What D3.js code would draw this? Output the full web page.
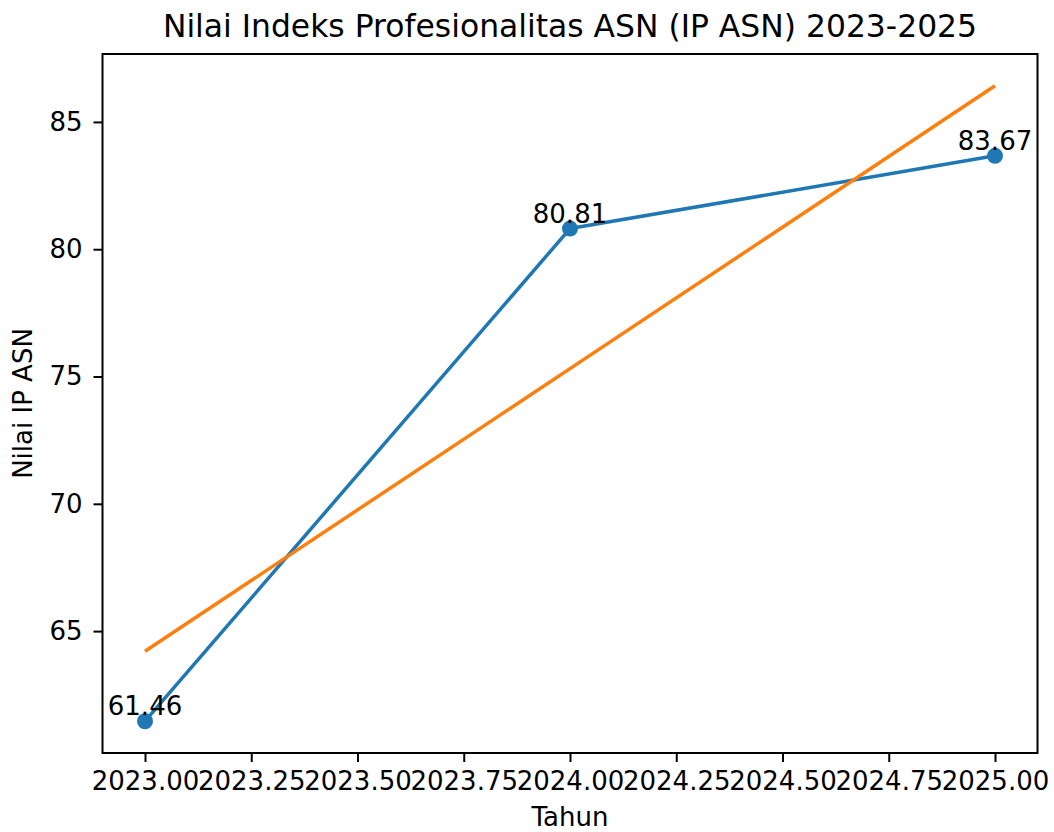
<!DOCTYPE html>
<html>
<head>
<meta charset="utf-8">
<script src="https://cdn.jsdelivr.net/npm/d3@7"></script>
<style>
    html, body { margin: 0; padding: 0; background: #ffffff; }
    svg { display: block; font-family: "DejaVu Sans", sans-serif; }
    .tick text { font-family: "DejaVu Sans", sans-serif; font-size: 26px; fill: #000000; }
    .tick line { stroke: #000000; stroke-width: 2; }
</style>
</head>
<body>
<div id="chart"></div>
<script>
const years = [2023, 2024, 2025];
const values = [61.46, 80.81, 83.67];
const trendValues = [64.21, 75.31, 86.42];
const xTicks = [2023, 2023.25, 2023.5, 2023.75, 2024, 2024.25, 2024.5, 2024.75, 2025];
const yTicks = [65, 70, 75, 80, 85];

const TITLE = "Nilai Indeks Profesionalitas ASN (IP ASN) 2023-2025";
const X_LABEL = "Tahun";
const Y_LABEL = "Nilai IP ASN";
const BLUE = "#1f77b4";
const ORANGE = "#ff7f0e";

function drawChart() {
    const width = 1054;
    const height = 832;
    const margin = { top: 54, right: 16.5, bottom: 79, left: 102.5 };

    const svg = d3.select("#chart")
        .append("svg")
        .attr("width", width)
        .attr("height", height);

    const innerWidth = width - margin.left - margin.right;
    const innerHeight = height - margin.top - margin.bottom;

    // matplotlib style 5% margins around the data
    const xMin = d3.min(years), xMax = d3.max(years);
    const xPad = (xMax - xMin) * 0.05;
    const allY = values.concat(trendValues);
    const yMin = d3.min(allY), yMax = d3.max(allY);
    const yPad = (yMax - yMin) * 0.05;

    const x = d3.scaleLinear()
        .domain([xMin - xPad, xMax + xPad])
        .range([0, innerWidth]);

    const y = d3.scaleLinear()
        .domain([yMin - yPad, yMax + yPad])
        .range([innerHeight, 0]);

    const chart = svg.append("g")
        .attr("transform", `translate(${margin.left},${margin.top})`);

    const line = d3.line()
        .x(d => x(d[0]))
        .y(d => y(d[1]));

    chart.append("path")
        .datum(d3.zip(years, values))
        .attr("fill", "none")
        .attr("stroke", BLUE)
        .attr("stroke-width", 3.5)
        .attr("stroke-linejoin", "round")
        .attr("d", line);

    chart.selectAll(".dot")
        .data(d3.zip(years, values))
        .enter()
        .append("circle")
        .attr("class", "dot")
        .attr("cx", d => x(d[0]))
        .attr("cy", d => y(d[1]))
        .attr("r", 8)
        .attr("fill", BLUE);

    chart.append("path")
        .datum(d3.zip(years, trendValues))
        .attr("fill", "none")
        .attr("stroke", ORANGE)
        .attr("stroke-width", 3.5)
        .attr("d", line);

    chart.selectAll(".value-label")
        .data(d3.zip(years, values))
        .enter()
        .append("text")
        .attr("class", "value-label")
        .attr("x", d => x(d[0]))
        .attr("y", d => y(d[1]) - 6)
        .attr("text-anchor", "middle")
        .attr("font-size", 26)
        .attr("fill", "#000000")
        .text(d => d[1].toFixed(2));

    const xAxis = chart.append("g")
        .attr("transform", `translate(0,${innerHeight})`)
        .call(d3.axisBottom(x)
            .tickValues(xTicks)
            .tickFormat(d3.format(".2f"))
            .tickSize(9)
            .tickSizeOuter(0)
            .tickPadding(10));
    xAxis.select(".domain").remove();

    const yAxis = chart.append("g")
        .call(d3.axisLeft(y)
            .tickValues(yTicks)
            .tickFormat(d3.format("d"))
            .tickSize(9)
            .tickSizeOuter(0)
            .tickPadding(11));
    yAxis.select(".domain").remove();

    chart.append("rect")
        .attr("x", 0)
        .attr("y", 0)
        .attr("width", innerWidth)
        .attr("height", innerHeight)
        .attr("fill", "none")
        .attr("stroke", "#000000")
        .attr("stroke-width", 2);

    svg.append("text")
        .attr("x", margin.left + innerWidth / 2)
        .attr("y", 37)
        .attr("text-anchor", "middle")
        .attr("font-size", 31.4)
        .attr("fill", "#000000")
        .text(TITLE);

    svg.append("text")
        .attr("x", margin.left + innerWidth / 2)
        .attr("y", 826)
        .attr("text-anchor", "middle")
        .attr("font-size", 26)
        .attr("fill", "#000000")
        .text(X_LABEL);

    svg.append("text")
        .attr("transform", `translate(32,${margin.top + innerHeight / 2}) rotate(-90)`)
        .attr("text-anchor", "middle")
        .attr("font-size", 26)
        .attr("fill", "#000000")
        .text(Y_LABEL);
}

drawChart();
</script>
</body>
</html>
